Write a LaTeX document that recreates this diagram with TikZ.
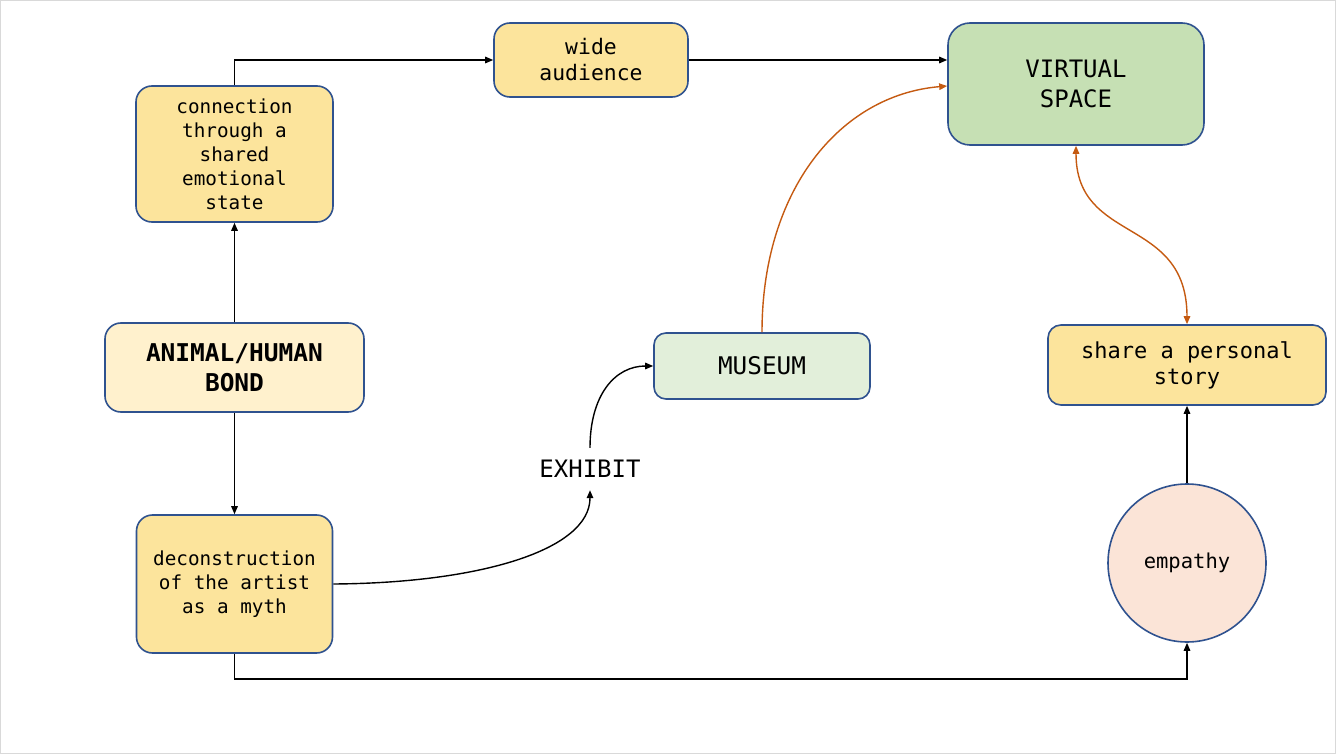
\documentclass[tikz,border=0pt]{standalone}
\usepackage{fontspec}
\setmonofont{DejaVu Sans Mono}
\usetikzlibrary{arrows.meta}
\definecolor{boxline}{HTML}{2F528F}
\definecolor{yel}{HTML}{FCE49C}
\definecolor{lightyel}{HTML}{FFF1CD}
\definecolor{grn}{HTML}{C6E0B4}
\definecolor{lightgrn}{HTML}{E2EFDA}
\definecolor{peach}{HTML}{FBE4D7}
\definecolor{orng}{HTML}{C55A11}
\tikzset{
  box/.style={draw=boxline, line width=1.6pt, rounded corners=16pt, align=center, inner sep=0pt, font=\ttfamily\fontsize{19.3}{24}\selectfont},
  conn/.style={line width=1.4pt, -{Triangle[length=8pt,width=6.5pt]}},
  oconn/.style={line width=1.4pt, draw=orng, -{Triangle[length=8pt,width=6.5pt]}, orng},
}
\begin{document}
\begin{tikzpicture}[x=1pt,y=-1pt]
\draw[draw=black!15, line width=1pt, fill=white] (0.5,0.5) rectangle (1335.5,753.5);
\useasboundingbox (0,0) rectangle (1336,754);

\node[box, fill=yel, minimum width=197pt, minimum height=136pt] (conn) at (234.5,154) {connection\\through a\\shared\\emotional\\state};
\node[box, fill=yel, minimum width=194pt, minimum height=74pt, font=\ttfamily\fontsize{21.4}{26}\selectfont] (wide) at (591,60) {wide\\audience};
\node[box, fill=grn, minimum width=256pt, minimum height=122pt, rounded corners=22pt, font=\ttfamily\fontsize{24}{30}\selectfont] (virt) at (1076,84) {VIRTUAL\\SPACE};
\node[box, fill=lightyel, minimum width=259pt, minimum height=89pt, font=\ttfamily\bfseries\fontsize{24.5}{30}\selectfont] (bond) at (234.5,367.5) {ANIMAL/HUMAN\\BOND};
\node[box, fill=lightgrn, minimum width=216pt, minimum height=66pt, rounded corners=12pt, font=\ttfamily\fontsize{24.3}{30}\selectfont] (mus) at (762,366) {MUSEUM};
\node[box, fill=yel, minimum width=278pt, minimum height=80pt, rounded corners=13pt, font=\ttfamily\fontsize{22}{26}\selectfont] (share) at (1187,365) {share a personal\\story};
\node[font=\ttfamily\fontsize{24}{30}\selectfont, inner sep=0pt, minimum height=42pt] (exh) at (590,469) {EXHIBIT};
\node[box, fill=yel, minimum width=196pt, minimum height=138pt] (dec) at (234.5,584) {deconstruction\\of the artist\\as a myth};
\node[draw=boxline, line width=1.6pt, circle, fill=peach, minimum size=158pt, inner sep=0pt, font=\ttfamily\fontsize{20.5}{24}\selectfont] (emp) at (1187,563) {empathy};

\draw[conn] (bond.north) -- (conn.south);
\draw[conn] (bond.south) -- (dec.north);
\draw[conn] (conn.north) |- (wide.west);
\draw[conn] (wide.east) -- (virt.west |- wide.east);
\draw[oconn] (mus.north) .. controls (762,190) and (840,95) .. (virt.west |- 0,86);
\draw[oconn, {Triangle[length=8pt,width=6.5pt]}-{Triangle[length=8pt,width=6.5pt]}] (virt.south) .. controls (1076,245) and (1187,215) .. (share.north);
\draw[conn] (emp.north) -- (share.south);
\draw[conn] (dec.south) -- (234.5,679) -| (emp.south);
\draw[conn] (dec.east) .. controls (480,583) and (590,550) .. (exh.south);
\draw[conn] (exh.north) .. controls (590,395) and (615,366) .. (mus.west);
\end{tikzpicture}
\end{document}
